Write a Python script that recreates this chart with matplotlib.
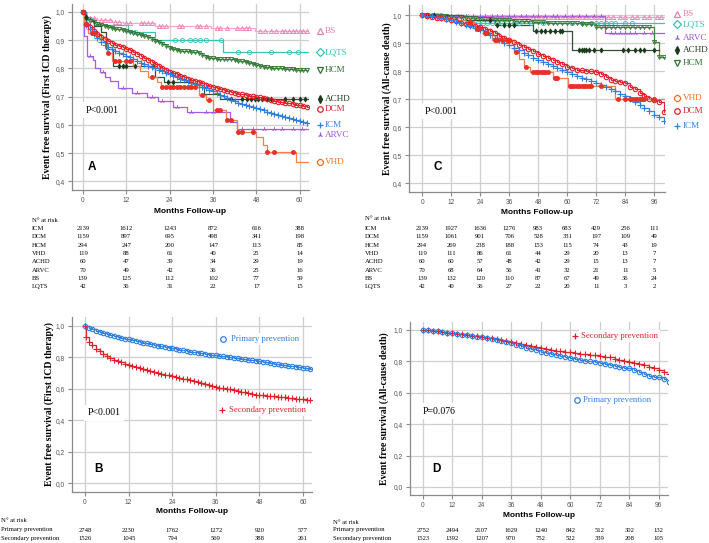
import matplotlib
matplotlib.use("Agg")
import matplotlib.pyplot as plt
import matplotlib.transforms as mtransforms
import numpy as np

plt.rcParams['font.family'] = ['Liberation Sans', 'DejaVu Sans']
SERIF = ['Liberation Serif', 'DejaVu Serif']

# ---------------- data: panel A (first ICD therapy, by cardiopathy) ----------------
T_A = [0, 1, 2, 3, 4, 5, 6, 7, 8, 9, 10, 11, 12, 13, 14, 15, 16, 17, 18, 19, 20,
       21, 22, 23, 24, 25, 26, 27, 28, 29, 30, 31, 32, 33, 34, 35, 36, 37, 38, 39, 40,
       41, 42, 43, 44, 45, 46, 47, 48, 49, 50, 51, 52, 53, 54, 55, 56, 57, 58, 59, 60,
       61, 62]
ICM_A = [1.0, 0.955, 0.938, 0.922, 0.908, 0.895, 0.884, 0.875, 0.868, 0.861, 0.855,
         0.850, 0.845, 0.839, 0.832, 0.826, 0.820, 0.815, 0.810, 0.805, 0.800,
         0.795, 0.790, 0.785, 0.779, 0.774, 0.769, 0.764, 0.759, 0.754, 0.749,
         0.745, 0.740, 0.735, 0.730, 0.725, 0.719, 0.713, 0.707, 0.701, 0.695,
         0.689, 0.683, 0.679, 0.675, 0.671, 0.667, 0.663, 0.659, 0.655, 0.651,
         0.647, 0.643, 0.639, 0.635, 0.632, 0.628, 0.624, 0.620, 0.617, 0.614,
         0.611, 0.607]
DCM_A = [1.0, 0.958, 0.945, 0.933, 0.922, 0.912, 0.903, 0.896, 0.890, 0.884, 0.879,
         0.875, 0.870, 0.864, 0.857, 0.850, 0.843, 0.836, 0.830, 0.823, 0.816,
         0.809, 0.802, 0.795, 0.789, 0.784, 0.779, 0.774, 0.769, 0.764, 0.759,
         0.755, 0.751, 0.747, 0.743, 0.739, 0.735, 0.731, 0.727, 0.723, 0.719,
         0.715, 0.712, 0.710, 0.708, 0.706, 0.704, 0.702, 0.700, 0.697, 0.694,
         0.691, 0.688, 0.685, 0.682, 0.680, 0.678, 0.676, 0.674, 0.672, 0.669,
         0.667, 0.665]
HCM_A = [1.0, 0.975, 0.968, 0.963, 0.958, 0.954, 0.950, 0.947, 0.944, 0.941, 0.938,
         0.935, 0.933, 0.930, 0.926, 0.922, 0.919, 0.916, 0.912, 0.905, 0.898,
         0.893, 0.886, 0.879, 0.874, 0.869, 0.865, 0.862, 0.861, 0.860, 0.859,
         0.858, 0.855, 0.848, 0.840, 0.838, 0.836, 0.835, 0.834, 0.834, 0.833,
         0.833, 0.830, 0.828, 0.826, 0.823, 0.819, 0.815, 0.812, 0.809, 0.806,
         0.804, 0.803, 0.802, 0.801, 0.800, 0.799, 0.798, 0.797, 0.796, 0.795,
         0.794, 0.794]
BS_A_T = [0, 1, 4, 8, 11, 20, 35.5, 47.5]
BS_A_S = [1.0, 0.978, 0.972, 0.966, 0.96, 0.951, 0.944, 0.933]
BS_A_C = [2, 3, 5, 6, 7.5, 9, 10, 12, 13, 16, 17, 18, 19, 21, 22, 23, 26.5, 27.5,
          31.5, 32.5, 34, 37, 38, 40, 42.5, 44, 45, 46, 49, 50.5, 52, 53.5, 55, 56,
          57, 58, 59, 60, 61, 62]
LQTS_A_T = [0, 1, 3, 12.5, 20, 38.8]
LQTS_A_S = [1.0, 0.976, 0.953, 0.93, 0.90, 0.857]
LQTS_A_C = [2, 14.4, 25.4, 27.5, 29.5, 31, 32.5, 34, 38.3, 43, 46, 52, 57, 59.5]
ACHD_A_T = [0, 0.5, 2, 3, 5, 6.5, 8.3, 20, 22.5, 30, 33.5, 38]
ACHD_A_S = [1.0, 0.983, 0.967, 0.95, 0.93, 0.87, 0.81, 0.771, 0.752, 0.735, 0.71, 0.69]
ACHD_A_C = [1, 10, 11, 12, 14.3, 19.5, 23.5, 25, 41, 44, 45.5, 46.5, 47.5, 48.5,
            49.5, 51, 52, 56, 58, 60, 61.5]
ARVC_A_T = [0, 0.4, 1.2, 2.9, 3.3, 4.7, 6, 7.5, 9.8, 13.5, 17.6, 20.8, 25, 28.7,
            40.6, 42.5]
ARVC_A_S = [1.0, 0.914, 0.843, 0.829, 0.80, 0.786, 0.771, 0.757, 0.729, 0.714, 0.70,
            0.686, 0.664, 0.647, 0.611, 0.587]
ARVC_A_C = [2, 5.5, 11, 15, 19, 22, 26, 30, 34, 36, 44, 47, 50, 53, 55, 58, 60.5]
VHD_A_T = [0, 0.4, 1.5, 3.5, 6.7, 8, 14, 15.8, 18, 20.4, 21.7, 32, 34, 36, 39.7,
           42.5, 48, 49.9, 50.8, 59]
VHD_A_S = [1.0, 0.958, 0.924, 0.907, 0.854, 0.828, 0.81, 0.79, 0.771, 0.753, 0.735,
           0.706, 0.688, 0.652, 0.617, 0.575, 0.557, 0.528, 0.504, 0.469]
VHD_A_C = [0, 1, 2.5, 3, 7, 9, 10, 12, 13, 19, 22, 23, 24, 25, 26, 27, 28, 29, 30,
           31, 33, 35, 37, 38, 40, 41, 43, 44, 47, 51, 53, 58]

# ---------------- data: panel C (all-cause death, by cardiopathy) ----------------
T_C = [0, 2, 4, 6, 8, 10, 12, 14, 16, 18, 20, 22, 24, 26, 28, 30, 32, 34, 36, 38,
       40, 42, 44, 46, 48, 50, 52, 54, 56, 58, 60, 62, 64, 66, 68, 70, 72, 74, 76,
       78, 80, 82, 84, 86, 88, 90, 92, 94, 96, 98, 100]
ICM_C = [1.0, 0.998, 0.996, 0.993, 0.99, 0.986, 0.982, 0.977, 0.972, 0.966, 0.96,
         0.953, 0.946, 0.938, 0.929, 0.92, 0.911, 0.902, 0.893, 0.884, 0.875,
         0.866, 0.857, 0.848, 0.839, 0.832, 0.825, 0.818, 0.811, 0.805, 0.798,
         0.791, 0.784, 0.777, 0.771, 0.765, 0.759, 0.752, 0.744, 0.736, 0.728,
         0.719, 0.710, 0.700, 0.690, 0.679, 0.667, 0.656, 0.645, 0.635, 0.621]
DCM_C = [1.0, 0.998, 0.995, 0.992, 0.989, 0.985, 0.982, 0.978, 0.974, 0.970, 0.966,
         0.962, 0.958, 0.951, 0.943, 0.935, 0.927, 0.919, 0.911, 0.903, 0.895,
         0.887, 0.879, 0.871, 0.863, 0.856, 0.848, 0.840, 0.832, 0.824, 0.815,
         0.810, 0.806, 0.803, 0.800, 0.799, 0.797, 0.790, 0.780, 0.770, 0.765,
         0.760, 0.757, 0.745, 0.735, 0.722, 0.710, 0.700, 0.697, 0.690, 0.655]
HCM_C = [1.0, 1.0, 0.999, 0.998, 0.997, 0.996, 0.995, 0.994, 0.993, 0.992, 0.99,
         0.989, 0.988, 0.987, 0.985, 0.984, 0.983, 0.982, 0.982, 0.981, 0.98,
         0.979, 0.978, 0.976, 0.975, 0.975, 0.974, 0.973, 0.973, 0.972, 0.972,
         0.971, 0.971, 0.970, 0.970, 0.968, 0.958, 0.958, 0.958, 0.958, 0.958,
         0.958, 0.958, 0.958, 0.958, 0.958, 0.958, 0.958, 0.905, 0.85, 0.85]
BS_C_T = [0, 5, 20]
BS_C_S = [1.0, 0.997, 0.994]
BS_C_C = [3, 6, 9, 12, 14, 16, 19, 22, 24, 27, 28, 30, 31, 33, 34, 36, 38, 39, 41,
          43, 44, 46, 47, 49, 51, 52, 54, 56, 57, 59, 61, 62, 64, 66, 68, 70, 72, 74,
          77, 79, 82, 84, 87, 89, 92, 94, 97, 99]
ARVC_C_T = [0, 10, 75.7]
ARVC_C_S = [1.0, 0.997, 0.937]
ARVC_C_C = [4, 8, 12, 15, 18, 21, 24, 26, 29, 31, 33, 36, 38, 41, 43, 46, 48, 51,
            54, 56, 59, 62, 65, 68, 71, 74, 78, 80, 82, 84, 86, 88, 92, 95]
LQTS_C_T = [0, 18]
LQTS_C_S = [1.0, 0.974]
LQTS_C_C = [2, 4, 6, 8, 19, 21, 23, 25, 27, 29, 31, 33, 35, 38, 40, 45, 50, 62, 66,
            70, 72, 74, 76, 78, 80, 84, 87]
ACHD_C_T = [0, 17, 30, 46, 62]
ACHD_C_S = [1.0, 0.983, 0.965, 0.945, 0.876]
ACHD_C_C = [2, 5, 28, 31, 34, 36, 38, 47, 49, 51, 53, 55, 57, 58, 65, 66, 67, 68,
            69, 71, 74, 83, 85, 88, 90, 92, 96]
VHD_C_T = [0, 6, 12, 18, 22, 25, 29, 38, 40, 42, 44.7, 54, 60.5, 80]
VHD_C_S = [1.0, 0.992, 0.983, 0.975, 0.95, 0.935, 0.911, 0.87, 0.845, 0.815, 0.798,
           0.774, 0.748, 0.70]
VHD_C_C = [20, 22.5, 23.5, 26, 27, 30, 31, 33, 35, 36, 39, 43, 46, 47, 48, 49, 50,
           51, 52, 55, 56, 61, 62, 63, 64, 65, 66, 67, 68, 69, 70, 74, 81, 84, 86,
           87, 88, 89, 90, 91, 92, 96]

# ---------------- data: panel B (first ICD therapy, by prevention) ----------------
T_B_PRI = T_A
PRI_B = [1.0, 0.985, 0.978, 0.971, 0.964, 0.957, 0.950, 0.944, 0.938, 0.932, 0.926,
         0.920, 0.914, 0.909, 0.904, 0.899, 0.894, 0.889, 0.884, 0.879, 0.875,
         0.870, 0.866, 0.861, 0.857, 0.853, 0.849, 0.845, 0.841, 0.837, 0.833,
         0.829, 0.825, 0.822, 0.818, 0.815, 0.812, 0.809, 0.806, 0.803, 0.800,
         0.797, 0.794, 0.791, 0.788, 0.785, 0.782, 0.779, 0.776, 0.772, 0.768,
         0.764, 0.760, 0.756, 0.752, 0.749, 0.746, 0.743, 0.740, 0.737, 0.734,
         0.731, 0.728]
T_B_SEC = [0, 0.3, 1, 2, 3, 4, 5, 6, 7, 8, 9, 10, 11, 12, 13, 14, 15, 16, 17, 18,
           19, 20, 21, 22, 23, 24, 25, 26, 27, 28, 29, 30, 31, 32, 33, 34, 35, 36, 37,
           38, 39, 40, 41, 42, 43, 44, 45, 46, 47, 48, 49, 50, 51, 52, 53, 54, 55, 56,
           57, 58, 59, 60, 61, 62]
SEC_B = [1.0, 0.93, 0.898, 0.877, 0.855, 0.838, 0.82, 0.806, 0.796, 0.786, 0.777,
         0.768, 0.759, 0.750, 0.744, 0.738, 0.732, 0.726, 0.720, 0.714, 0.708,
         0.702, 0.696, 0.690, 0.685, 0.680, 0.675, 0.670, 0.665, 0.660, 0.655,
         0.650, 0.644, 0.638, 0.632, 0.626, 0.619, 0.612, 0.608, 0.604, 0.600,
         0.596, 0.591, 0.587, 0.582, 0.577, 0.572, 0.567, 0.563, 0.560, 0.558,
         0.556, 0.554, 0.552, 0.550, 0.548, 0.545, 0.542, 0.539, 0.536, 0.533,
         0.532, 0.531, 0.531]

# ---------------- data: panel D (all-cause death, by prevention) ----------------
T_D = T_C
SEC_D = [1.0, 0.998, 0.995, 0.992, 0.988, 0.983, 0.979, 0.976, 0.972, 0.968, 0.964,
         0.96, 0.957, 0.952, 0.947, 0.942, 0.937, 0.932, 0.926, 0.918, 0.911,
         0.904, 0.897, 0.89, 0.883, 0.878, 0.874, 0.869, 0.865, 0.861, 0.857,
         0.854, 0.85, 0.847, 0.843, 0.84, 0.836, 0.831, 0.825, 0.818, 0.811,
         0.804, 0.798, 0.791, 0.783, 0.774, 0.766, 0.757, 0.745, 0.735, 0.72]
PRI_D = [1.0, 0.997, 0.994, 0.991, 0.987, 0.983, 0.979, 0.975, 0.971, 0.966, 0.961,
         0.957, 0.953, 0.947, 0.941, 0.934, 0.928, 0.921, 0.915, 0.906, 0.897,
         0.888, 0.879, 0.871, 0.862, 0.855, 0.848, 0.84, 0.833, 0.826, 0.819,
         0.814, 0.81, 0.805, 0.8, 0.796, 0.791, 0.785, 0.779, 0.773, 0.767,
         0.761, 0.755, 0.745, 0.732, 0.718, 0.708, 0.703, 0.702, 0.69, 0.668]

# ---------------- numbers at risk ----------------
GROUPS = ['ICM', 'DCM', 'HCM', 'VHD', 'ACHD', 'ARVC', 'BS', 'LQTS']
TICKS_60 = [0, 12, 24, 36, 48, 60]
TICKS_96 = [0, 12, 24, 36, 48, 60, 72, 84, 96]
RISK_A = [[2139, 1612, 1243, 872, 616, 388],
          [1159, 897, 695, 498, 341, 198],
          [294, 247, 200, 147, 113, 85],
          [119, 88, 61, 40, 25, 14],
          [60, 47, 39, 34, 29, 19],
          [70, 49, 42, 36, 25, 16],
          [139, 125, 112, 102, 77, 59],
          [42, 36, 31, 22, 17, 15]]
RISK_C = [[2139, 1927, 1636, 1276, 983, 683, 429, 256, 111],
          [1159, 1061, 901, 706, 528, 331, 197, 109, 49],
          [294, 269, 238, 188, 153, 115, 74, 43, 19],
          [119, 111, 86, 61, 44, 29, 20, 13, 7],
          [60, 60, 57, 48, 42, 29, 15, 13, 7],
          [70, 68, 64, 56, 41, 32, 21, 11, 5],
          [139, 132, 120, 110, 87, 67, 49, 36, 24],
          [42, 40, 36, 27, 22, 20, 11, 3, 2]]
PREV = ['Primary prevention', 'Secondary prevention']
RISK_B = [[2748, 2230, 1762, 1272, 920, 577],
          [1526, 1045, 794, 569, 388, 261]]
RISK_D = [[2752, 2494, 2107, 1629, 1240, 842, 512, 302, 132],
          [1523, 1392, 1207, 970, 752, 522, 339, 208, 105]]

# colours: (line, marker/text)
COL = {
    'BS': ('#f6a9cd', '#ec7fb2'),
    'LQTS': ('#3cc3b6', '#38c0b8'),
    'HCM': ('#3c8c3c', '#2f6f2f'),
    'ACHD': ('#33503a', '#1c3a1c'),
    'DCM': ('#e2282f', '#e0202a'),
    'ICM': ('#3a86e0', '#2f7fe0'),
    'ARVC': ('#a35ce8', '#9b50e6'),
    'VHD': ('#f5804e', '#e8302a'),
}
BLUE = '#2f80e0'
RED = '#e0202a'

fig = plt.figure(figsize=(7.09, 5.43), dpi=100)


def make_axes(rect, xlim, ylim, xticks, yticks):
    ax = fig.add_axes(rect)
    ax.set_xlim(*xlim)
    ax.set_ylim(*ylim)
    ax.set_xticks(xticks)
    ax.set_yticks(yticks)
    ax.set_yticklabels([('%.1f' % v).replace('.', ',') for v in yticks])
    ax.grid(True, color='#cfcfcf', lw=0.9)
    ax.set_axisbelow(True)
    for s in ['top', 'right']:
        ax.spines[s].set_visible(False)
    for s in ['left', 'bottom']:
        ax.spines[s].set_color('#8a8a8a')
        ax.spines[s].set_linewidth(0.9)
    ax.tick_params(labelsize=4.8, labelcolor='#555555', color='#8a8a8a',
                   length=3, width=0.8, pad=2)
    return ax


def km(ax, t, s, end, line, mcol, marker, censor=None, ms=3.0, filled=False,
       mew=0.6, lw=0.9):
    tt = list(t) + [end]
    ss = list(s) + [s[-1]]
    ax.step(tt, ss, where='post', color=line, lw=lw, zorder=3)
    if censor is None:
        ct, cs = t, s
    else:
        idx = np.searchsorted(t, censor, side='right') - 1
        ct, cs = censor, np.asarray(s)[idx]
    ax.plot(ct, cs, ls='none', marker=marker, ms=ms, mew=mew,
            mfc=mcol if filled else 'none', mec=mcol, zorder=4)


def side_legend(ax, entries, x_mark=1.046, x_text=1.068):
    tr = mtransforms.blended_transform_factory(ax.transAxes, ax.transData)
    for name, y, marker, mc, tc, filled in entries:
        ax.plot([x_mark], [y], transform=tr, clip_on=False, marker=marker, ms=4,
                mew=0.9, mec=mc, mfc=mc if filled else 'none', ls='none')
        ax.text(x_text, y, name, transform=tr, color=tc, fontsize=6.6,
                family=SERIF, va='center', ha='left')


def risk_table(ax, x_label, y_head, row_ys, names, rows, ticks):
    tr = mtransforms.blended_transform_factory(ax.transData, fig.transFigure)
    fig.text(x_label, 1 - y_head / 543, 'N\u00b0 at risk', fontsize=4.8,
             family=SERIF, va='center', ha='left')
    for name, vals, py in zip(names, rows, row_ys):
        fig.text(x_label, 1 - py / 543, name, fontsize=4.8, family=SERIF,
                 va='center', ha='left')
        for xt, v in zip(ticks, vals):
            ax.text(xt, 1 - py / 543, str(v), transform=tr, fontsize=4.8,
                    family=SERIF, va='center', ha='center')


def decorate(ax, ylabel, ylab_x, letter, lx, ly, ptxt, px, py, xl_y):
    ax.text(ylab_x, 0.5, ylabel, transform=ax.transAxes, rotation=90,
            ha='center', va='center', fontsize=7, fontweight='bold', family=SERIF)
    ax.text(0.5, xl_y, 'Months Follow-up', transform=ax.transAxes, ha='center',
            va='center', fontsize=6, fontweight='bold')
    ax.text(lx, ly, letter, fontsize=8.5, fontweight='bold', ha='left',
            va='center', zorder=6)
    ax.text(px, py, ptxt, fontsize=7, family=SERIF, ha='left', va='center',
            zorder=6, bbox=dict(facecolor='white', edgecolor='none', pad=2.5))


ROWS8 = [228.3, 236.6, 245.0, 253.3, 261.6, 270.0, 278.3, 286.6]

# ---------------- panel A ----------------
axA = make_axes([0.1016, 0.650, 0.334, 0.3425], (-3, 62.5), (0.369, 1.028),
                TICKS_60, [0.4, 0.5, 0.6, 0.7, 0.8, 0.9, 1.0])
E = 62.3
km(axA, BS_A_T, BS_A_S, E, *COL['BS'], '^', BS_A_C, ms=3)
km(axA, LQTS_A_T, LQTS_A_S, E, *COL['LQTS'], 'o', LQTS_A_C, ms=3)
km(axA, T_A, HCM_A, E, *COL['HCM'], 'v', ms=3)
km(axA, ACHD_A_T, ACHD_A_S, E, *COL['ACHD'], 'd', ACHD_A_C, ms=2.6, filled=True)
km(axA, T_A, DCM_A, E, *COL['DCM'], 'o', ms=3.2, mew=0.8)
km(axA, T_A, ICM_A, E, *COL['ICM'], '+', ms=4, mew=0.8)
km(axA, ARVC_A_T, ARVC_A_S, E, *COL['ARVC'], '2', ARVC_A_C, ms=3.5)
km(axA, VHD_A_T, VHD_A_S, E, *COL['VHD'], 'o', VHD_A_C, ms=2.9, filled=True)
side_legend(axA, [
    ('BS', 0.933, '^', COL['BS'][1], COL['BS'][1], False),
    ('LQTS', 0.858, 'D', COL['LQTS'][1], COL['LQTS'][1], False),
    ('HCM', 0.794, 'v', COL['HCM'][1], COL['HCM'][1], False),
    ('ACHD', 0.691, 'd', COL['ACHD'][1], COL['ACHD'][1], True),
    ('DCM', 0.656, 'o', COL['DCM'][1], COL['DCM'][1], False),
    ('ICM', 0.599, '+', COL['ICM'][1], COL['ICM'][1], False),
    ('ARVC', 0.564, '2', COL['ARVC'][1], COL['ARVC'][1], False),
    ('VHD', 0.468, '8', '#f07020', '#f07020', False),
])
decorate(axA, 'Event free survival (First ICD therapy)', -0.105, 'A', 1.4, 0.45,
         'P<0.001', 0.8, 0.652, -0.118)
risk_table(axA, 0.045, 221, ROWS8, GROUPS, RISK_A, TICKS_60)

# ---------------- panel C ----------------
axC = make_axes([0.577, 0.6464, 0.361, 0.344], (-5.4, 100.5), (0.368, 1.036),
                TICKS_96, [0.4, 0.5, 0.6, 0.7, 0.8, 0.9, 1.0])
E = 100
km(axC, BS_C_T, BS_C_S, E, *COL['BS'], '^', BS_C_C, ms=3)
km(axC, ARVC_C_T, ARVC_C_S, E, *COL['ARVC'], '2', ARVC_C_C, ms=3.5)
km(axC, LQTS_C_T, LQTS_C_S, E, *COL['LQTS'], 'o', LQTS_C_C, ms=3)
km(axC, T_C, HCM_C, 99, *COL['HCM'], 'v', ms=3)
km(axC, ACHD_C_T, ACHD_C_S, 98, *COL['ACHD'], 'd', ACHD_C_C, ms=2.6, filled=True)
km(axC, T_C, DCM_C, E, *COL['DCM'], 'o', ms=3.2, mew=0.8)
km(axC, T_C, ICM_C, E, *COL['ICM'], '+', ms=4, mew=0.8)
km(axC, VHD_C_T, VHD_C_S, E, *COL['VHD'], 'o', VHD_C_C, ms=2.9, filled=True)
side_legend(axC, [
    ('BS', 1.004, '^', COL['BS'][1], COL['BS'][1], False),
    ('LQTS', 0.968, 'D', COL['LQTS'][1], COL['LQTS'][1], False),
    ('ARVC', 0.918, '2', COL['ARVC'][1], COL['ARVC'][1], False),
    ('ACHD', 0.875, 'd', COL['ACHD'][1], COL['ACHD'][1], True),
    ('HCM', 0.829, 'v', COL['HCM'][1], COL['HCM'][1], False),
    ('VHD', 0.704, '8', '#f07020', '#f07020', False),
    ('DCM', 0.657, 'o', COL['DCM'][1], COL['DCM'][1], False),
    ('ICM', 0.604, '+', COL['ICM'][1], COL['ICM'][1], False),
])
decorate(axC, 'Event free survival (All-cause death)', -0.087, 'C', 4.5, 0.457,
         'P<0.001', 1.2, 0.657, -0.112)
risk_table(axC, 0.515, 218.3, ROWS8, GROUPS, RISK_C, TICKS_96)

# ---------------- panel B ----------------
axB = make_axes([0.1016, 0.0939, 0.3385, 0.3223], (-3.58, 62.5), (-0.057, 1.057),
                TICKS_60, [0.0, 0.2, 0.4, 0.6, 0.8, 1.0])
km(axB, T_B_SEC, SEC_B, 62.5, RED, RED, '+', ms=4, mew=0.8)
km(axB, T_B_PRI, PRI_B, 62.5, BLUE, BLUE, 'o', ms=3.2, mew=0.8)
axB.plot([38], [0.917], marker='o', ms=4, mfc='none', mec=BLUE, mew=0.9, zorder=7)
axB.text(40.2, 0.917, 'Primary prevention', color=BLUE, fontsize=6.3, family=SERIF,
         va='center', zorder=6, bbox=dict(facecolor='white', edgecolor='none', pad=1.5))
axB.plot([37.7], [0.465], marker='+', ms=4.5, mec=RED, mew=0.9, zorder=7)
axB.text(39.6, 0.465, 'Secondary prevention', color=RED, fontsize=6.3, family=SERIF,
         va='center', zorder=6, bbox=dict(facecolor='white', edgecolor='none', pad=1.5))
decorate(axB, 'Event free survival (First ICD therapy)', -0.096, 'B', 2.6, 0.089,
         'P<0.001', 0.6, 0.448, -0.109)
risk_table(axB, 0.001, 521, [530, 538.3], PREV, RISK_B, TICKS_60)

# ---------------- panel D ----------------
axD = make_axes([0.578, 0.0884, 0.364, 0.3186], (-5.3, 99.7), (-0.051, 1.051),
                TICKS_96, [0.0, 0.2, 0.4, 0.6, 0.8, 1.0])
km(axD, T_D, SEC_D, 100, RED, RED, '+', ms=4, mew=0.8)
km(axD, T_D, PRI_D, 100, BLUE, BLUE, 'o', ms=3.2, mew=0.8)
axD.plot([61.8], [0.964], marker='+', ms=4.5, mec=RED, mew=0.9, zorder=7)
axD.text(64.3, 0.964, 'Secondary prevention', color=RED, fontsize=6.3, family=SERIF,
         va='center', zorder=6, bbox=dict(facecolor='white', edgecolor='none', pad=1.5))
axD.plot([62.7], [0.554], marker='o', ms=4, mfc='none', mec=BLUE, mew=0.9, zorder=7)
axD.text(65.1, 0.554, 'Primary prevention', color=BLUE, fontsize=6.3, family=SERIF,
         va='center', zorder=6, bbox=dict(facecolor='white', edgecolor='none', pad=1.5))
decorate(axD, 'Event free survival (All-cause death)', -0.1, 'D', 4, 0.115,
         'P=0.076', 0, 0.484, -0.116)
risk_table(axD, 0.47, 522.7, [530, 538.3], PREV, RISK_D, TICKS_96)

fig.savefig('out.png', dpi=100)
